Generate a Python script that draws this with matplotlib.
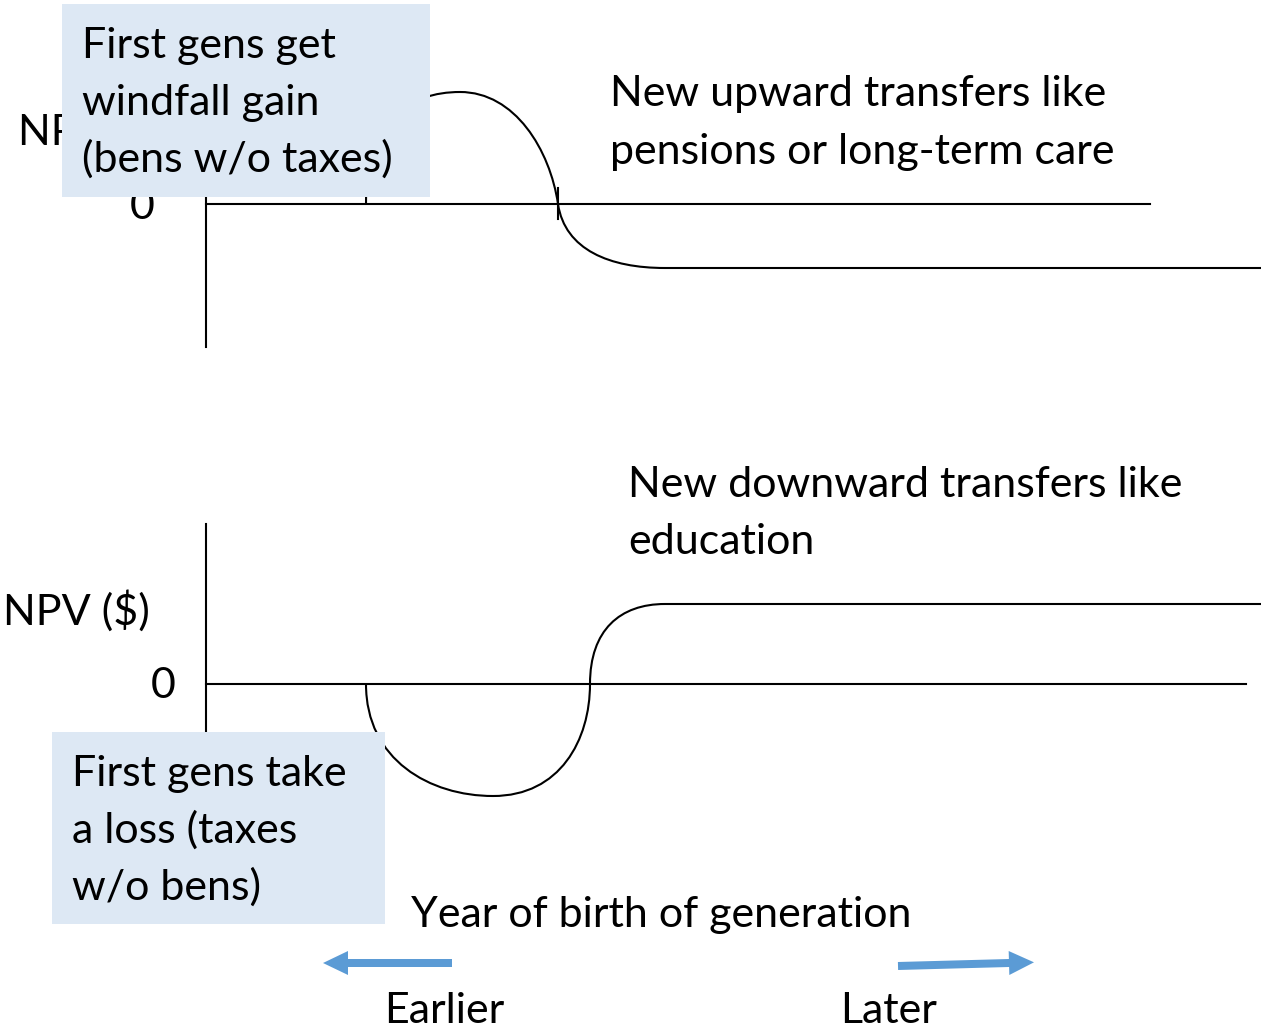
"""
Conceptual sketch: NPV of new transfer programs by year of birth of generation.
Top panel: upward transfers (pensions), bottom panel: downward transfers (education).
"""

import matplotlib.pyplot as plt
from matplotlib.path import Path
from matplotlib.patches import PathPatch, Rectangle, FancyArrow

plt.rcParams['font.family'] = ['Lato', 'DejaVu Sans']

# Everything is laid out in pixel space of the 1261x1030 picture
# x = year of birth (earlier -> later), y = NPV (screen, inverted)
upward_x = [366, 366, 410, 460, 515, 550, 558, 565, 610, 665, 1261]
upward_y = [204, 120, 92, 92, 92, 150, 204, 250, 268, 268, 268]
upward_codes = [Path.MOVETO] + [Path.CURVE4] * 9 + [Path.LINETO]

downward_x = [366, 366, 430, 493, 560, 590, 590, 590, 620, 665, 1261]
downward_y = [684, 760, 796, 796, 796, 740, 684, 630, 604, 604, 604]
downward_codes = [Path.MOVETO] + [Path.CURVE4] * 9 + [Path.LINETO]

top_zero, bottom_zero = 204, 684
top_box_lines = ["First gens get", "windfall gain", "(bens w/o taxes)"]
bottom_box_lines = ["First gens take", "a loss (taxes", "w/o bens)"]
top_note = ["New upward transfers like", "pensions or long-term care"]
bottom_note = ["New downward transfers like", "education"]

BOX_COLOR = "#DDE8F4"
ARROW_COLOR = "#5B9BD5"
FS = 31


def main():
    fig = plt.figure(figsize=(12.61, 10.30), dpi=100)
    ax = fig.add_axes([0, 0, 1, 1])
    ax.set_xlim(0, 1261)
    ax.set_ylim(1030, 0)
    ax.axis("off")

    # axes of the two panels
    ax.plot([206, 206], [150, 347], color="k", lw=1.5, zorder=1)
    ax.plot([206, 1150], [top_zero, top_zero], color="k", lw=1.5, zorder=1)
    ax.plot([558, 558], [188, 219], color="k", lw=1.5, zorder=1)
    ax.plot([206, 206], [524, 760], color="k", lw=1.5, zorder=1)
    ax.plot([206, 1246], [bottom_zero, bottom_zero], color="k", lw=1.5, zorder=1)

    # the curves
    for xs, ys, codes in [(upward_x, upward_y, upward_codes),
                          (downward_x, downward_y, downward_codes)]:
        path = Path(list(zip(xs, ys)), codes)
        ax.add_patch(PathPatch(path, facecolor="none", edgecolor="k", lw=1.5, zorder=2))

    # axis labels (top one is mostly hidden behind the box)
    ax.text(18, 145, "NPV ($)", fontsize=FS, va="baseline", zorder=1)
    ax.text(130, 219, "0", fontsize=FS, va="baseline", zorder=1)
    ax.text(3, 625, "NPV ($)", fontsize=FS, va="baseline")
    ax.text(151, 698, "0", fontsize=FS, va="baseline")

    # callout boxes
    ax.add_patch(Rectangle((62, 4), 368, 193, facecolor=BOX_COLOR, edgecolor="none", zorder=3))
    for i, line in enumerate(top_box_lines):
        ax.text(82, 58 + 57 * i, line, fontsize=FS, va="baseline", zorder=4)
    ax.add_patch(Rectangle((52, 732), 333, 192, facecolor=BOX_COLOR, edgecolor="none", zorder=3))
    for i, line in enumerate(bottom_box_lines):
        ax.text(72, 786 + 57 * i, line, fontsize=FS, va="baseline", zorder=4)

    for i, line in enumerate(top_note):
        ax.text(610, 106 + 58 * i, line, fontsize=FS, va="baseline")
    for i, line in enumerate(bottom_note):
        ax.text(628, 497 + 57 * i, line, fontsize=FS, va="baseline")

    ax.text(411, 927, "Year of birth of generation", fontsize=FS, va="baseline")
    ax.text(384, 1023, "Earlier", fontsize=FS, va="baseline")
    ax.text(840, 1023, "Later", fontsize=FS, va="baseline")

    # direction arrows
    ax.add_patch(FancyArrow(452, 963, -104, 0, width=8, head_width=24, head_length=25,
                            length_includes_head=False, color=ARROW_COLOR, lw=0))
    ax.add_patch(FancyArrow(898, 966, 111, -3, width=8, head_width=24, head_length=25,
                            length_includes_head=False, color=ARROW_COLOR, lw=0))

    fig.savefig("out.png", dpi=100)
    plt.close(fig)


if __name__ == "__main__":
    main()
